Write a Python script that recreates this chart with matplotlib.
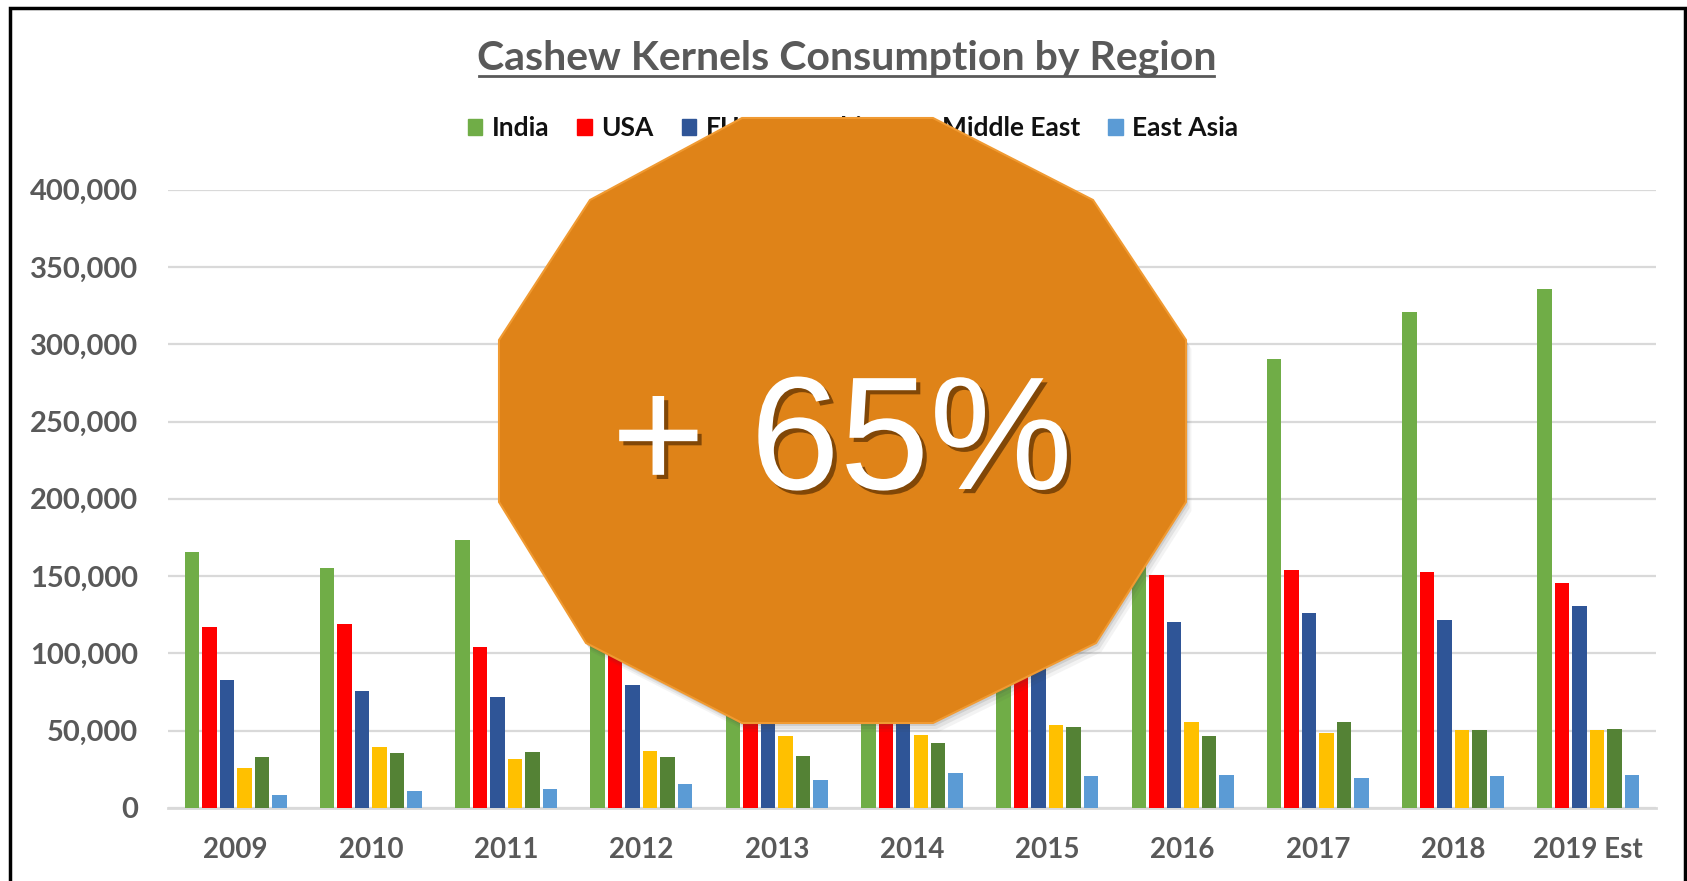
import numpy as np
import matplotlib
matplotlib.use('Agg')
import matplotlib.pyplot as plt
from matplotlib.patches import Polygon, Rectangle, Patch
from matplotlib.lines import Line2D
import matplotlib.patheffects as pe
from matplotlib.ticker import FuncFormatter

# data (tonnes)
years = ['2009', '2010', '2011', '2012', '2013', '2014', '2015', '2016',
         '2017', '2018', '2019 Est']
india = [165400, 155000, 173100, 182000, 200000, 215000, 235000, 258000,
         290500, 320700, 336000]
usa = [117300, 118800, 104300, 110000, 122000, 130000, 140000, 150400,
       153700, 152900, 145300]
eu28 = [82600, 75900, 71600, 79300, 85000, 95000, 105000, 120200,
        126300, 121700, 130700]
china = [25900, 39700, 31900, 37100, 46600, 47400, 53500, 55800,
         48800, 50600, 50600]
middle_east = [32800, 35400, 36200, 32800, 33600, 42200, 52600, 46300,
               55800, 50600, 51400]
east_asia = [8600, 11200, 12100, 15500, 18100, 22400, 20700, 21200,
             19700, 20400, 21200]

series = [('India', india, '#70AD47'),
          ('USA', usa, '#FF0000'),
          ('EU28', eu28, '#2F5597'),
          ('China', china, '#FFC000'),
          ('Middle East', middle_east, '#548235'),
          ('East Asia', east_asia, '#5B9BD5')]

W, H = 1687, 881
fig = plt.figure(figsize=(W / 100, H / 100), dpi=100)
fig.patch.set_facecolor('white')


def fx(px):
    return px / W


def fy(py):
    return 1 - py / H


ax = fig.add_axes([fx(168), fy(808), fx(1656) - fx(168), fy(189.6) - fy(808)])

x = np.arange(len(years))
slot = 0.1293
for i, (name, vals, col) in enumerate(series):
    ax.bar(x + (i - 2.5) * slot, vals, width=0.107, color=col, zorder=3)

ax.set_xlim(-0.5, len(years) - 0.5)
ax.set_ylim(0, 400000)
ax.set_yticks(np.arange(0, 400001, 50000))
ax.yaxis.set_major_formatter(FuncFormatter(lambda v, p: '{:,.0f}'.format(v)))
ax.set_xticks(x)
ax.set_xticklabels(years)
ax.grid(axis='y', color='#D9D9D9', linewidth=1.6, zorder=0)
for s in ['top', 'right', 'left']:
    ax.spines[s].set_visible(False)
ax.spines['bottom'].set_color('#D9D9D9')
ax.spines['bottom'].set_linewidth(2)
ax.tick_params(axis='both', length=0, colors='#595959')
ax.tick_params(axis='y', pad=21.5)
ax.tick_params(axis='x', pad=21)
for lab in ax.get_yticklabels():
    lab.set_fontfamily('Lato')
    lab.set_fontweight('bold')
    lab.set_fontsize(21)
for lab in ax.get_xticklabels():
    lab.set_fontfamily('Lato')
    lab.set_fontweight('bold')
    lab.set_fontsize(20)

# title with underline
fig.text(fx(847), fy(58), 'Cashew Kernels Consumption by Region',
         ha='center', va='center', fontsize=29.5, fontweight='bold',
         family='Lato', color='#595959')
fig.add_artist(Line2D([fx(479), fx(1214)], [fy(76), fy(76)],
                      color='#595959', linewidth=2))

handles = [Patch(color=c, label=n) for n, v, c in series]
leg = fig.legend(handles=handles, ncol=6, loc='center',
                 bbox_to_anchor=(fx(853), fy(128)), frameon=False,
                 handlelength=0.55, handleheight=0.55, handletextpad=0.35,
                 columnspacing=1.07, prop={'family': 'Lato', 'weight': 'bold',
                                           'size': 19})
for t in leg.get_texts():
    t.set_color('#111111')

# outer frame
fig.add_artist(Rectangle((fx(10), fy(900)), fx(1675), fy(8) - fy(900),
                         transform=fig.transFigure, fill=False,
                         edgecolor='black', linewidth=2.5, zorder=1))

# the big orange badge (twelve corners, pixel positions)
verts = [(742, 118), (933, 118), (1093, 200), (1186, 340), (1186, 502),
         (1096, 643), (933, 723), (742, 723), (586, 643), (499, 502),
         (499, 340), (590, 200)]
for off, a in [(9, 0.06), (6, 0.09), (3, 0.13)]:
    sh = [(fx(px + off * 0.6), fy(py + off)) for px, py in verts]
    fig.add_artist(Polygon(sh, closed=True, transform=fig.transFigure,
                           facecolor='#404040', edgecolor='none', alpha=a,
                           zorder=9))
poly = [(fx(px), fy(py)) for px, py in verts]
fig.add_artist(Polygon(poly, closed=True, transform=fig.transFigure,
                       facecolor='#DF8318', edgecolor='#F09A32',
                       linewidth=1.5, zorder=10))

badge = fig.text(fx(842), fy(489), '+ 65%', ha='center', va='baseline',
                 fontsize=116, family='Liberation Sans', color='white',
                 zorder=11)
badge.set_path_effects([pe.withSimplePatchShadow(offset=(3, -3),
                                                 shadow_rgbFace='#5A2E00',
                                                 alpha=0.7)])

fig.savefig('out.png', dpi=100)
